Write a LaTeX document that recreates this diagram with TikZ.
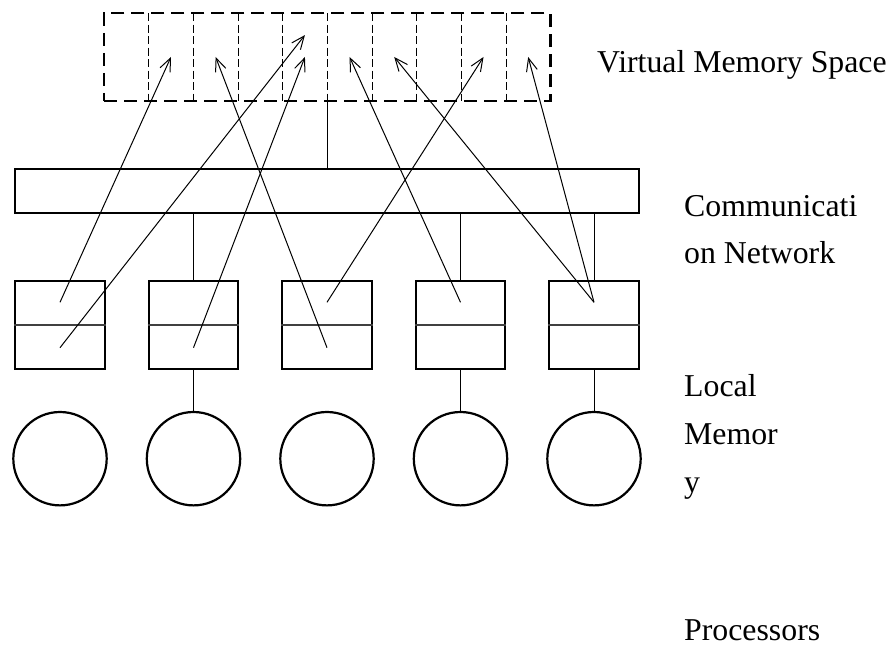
\documentclass[tikz,border=0pt]{standalone}
\usepackage{fontspec}
\setmainfont{Liberation Serif}
\usetikzlibrary{arrows.meta,calc}
\begin{document}
\begin{tikzpicture}[x=1pt,y=-1pt,
  wire/.style={line width=1pt},
  link/.style={line width=1pt,-{Straight Barb[length=13pt,width=11pt]}},
  membox/.style={draw,line width=2.2pt,minimum width=89.5pt,minimum height=88.6pt,inner sep=0pt},
  divider/.style={line width=1.3pt,draw=black!75},
  cpu/.style={draw,circle,line width=2.2pt,minimum size=93.4pt,inner sep=0pt},
  cell/.style={minimum width=44.65pt,minimum height=87.4pt,inner sep=0pt},
  celledge/.style={line width=1pt,dash pattern=on 8pt off 3.5pt},
  space/.style={draw,line width=2.2pt,dash pattern=on 13pt off 7pt,minimum width=446.5pt,minimum height=87.4pt,inner sep=0pt},
  netbus/.style={draw,line width=2.2pt,minimum width=624.3pt,minimum height=43.7pt,inner sep=0pt},
  lbl/.style={anchor=base west,inner sep=0pt,font=\fontsize{31.8}{38}\selectfont}]
\useasboundingbox (0,0) rectangle (895,647);

% virtual memory space: ten pages
\foreach \i in {1,...,10}
  \node[cell] (c\i) at ({104+44.65*(\i-0.5)},57) {};
\foreach \i in {1,...,9}
  \draw[celledge] (c\i.north east) -- (c\i.south east);
\node[space] (vms) at (327.25,57) {};

% communication network
\node[netbus] (bus) at (327.15,190.85) {};
\draw[wire] (vms.south) -- (vms.south |- bus.north);

% local memories and processors
\foreach \i in {1,...,5} {
  \node[membox] (m\i) at ({60+133.5*(\i-1)},325) {};
  \draw[divider] (m\i.west) -- (m\i.east);
  \coordinate (u\i) at ($(m\i.center)!0.5!(m\i.north)$);
  \coordinate (l\i) at ($(m\i.center)!0.5!(m\i.south)$);
  \node[cpu] (p\i) at ({60+133.5*(\i-1)},458.7) {};
}
\foreach \i in {2,4,5} {
  \draw[wire] (m\i.north) -- (m\i.north |- bus.south);
  \draw[wire] (m\i.south) -- (p\i.north);
}

% page mappings
\coordinate (c5top) at ($(c5.center)!0.5!(c5.north)$);
\draw[link] (u1) -- (c2.center);
\draw[link] (l1) -- (c5top);
\draw[link] (l2) -- (c5.center);
\draw[link] (l3) -- (c3.center);
\draw[link] (u3) -- (c9.center);
\draw[link] (u4) -- (c6.center);
\draw[link] (u5) -- (c7.center);
\draw[link] (u5) -- (c10.center);

% labels
\node[lbl] (tvms) at (597,72.7) {Virtual Memory Space};
\node[lbl] (tnet1) at (684,216.7) {Communicati};
\node[lbl] (tnet2) at (684,263.3) {on Network};
\node[lbl] (tmem1) at (684,396) {Local};
\node[lbl] (tmem2) at (684,444) {Memor};
\node[lbl] (tmem3) at (684,492) {y};
\node[lbl] (tcpu) at (684,640) {Processors};
\end{tikzpicture}
\end{document}
